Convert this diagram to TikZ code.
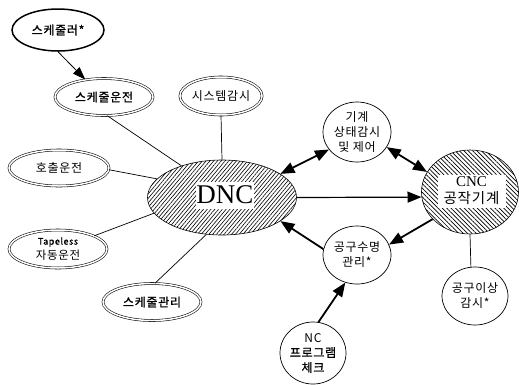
\documentclass[tikz,border=0pt]{standalone}
\usepackage{fontspec}
\setmainfont{Noto Sans CJK KR}[LetterSpace=6]
\newfontfamily\kbold{Noto Sans CJK KR}[LetterSpace=6,FakeBold=1.2]
\newfontfamily\latinserif{Liberation Serif}
\usetikzlibrary{shapes.geometric,arrows.meta,patterns.meta}
\tikzset{
  x=1pt,y=-1pt,
  elbase/.style={ellipse,inner sep=0pt,align=center,font=\fontsize{12}{15}\selectfont},
  dbl/.style={elbase,draw,line width=.55pt,double,double distance=1.5pt,minimum width=#1},
  bold/.style={elbase,draw,line width=1.5pt,minimum width=#1},
  circ/.style={elbase,draw,line width=.7pt,minimum width=#1},
  hatchA/.style={elbase,draw,line width=.6pt,pattern={Lines[angle=50,distance=2.9pt,line width=.6pt]}},
  hatchB/.style={elbase,draw,line width=.6pt,pattern={Lines[angle=-45,distance=3.1pt,line width=.7pt]}},
  plate/.style={fill=white,inner sep=0pt,align=center},
  thin link/.style={line width=.7pt},
  med link/.style={line width=.8pt,-{Triangle[length=13pt,width=9pt]}},
  heavy/.style={line width=1.8pt,-{Triangle[length=14pt,width=11pt]}},
  heavy both/.style={line width=1.8pt,{Triangle[length=14pt,width=11pt]}-{Triangle[length=14pt,width=11pt]}}
}
\begin{document}
\begin{tikzpicture}
\useasboundingbox (0,0) rectangle (519,384);
\node[bold=92pt,minimum height=42pt] (sched) at (58,30) {\kbold 스케줄러*};
\node[dbl=98pt,minimum height=37pt] (run) at (104,97) {\kbold 스케줄운전};
\node[dbl=80pt,minimum height=38pt] (mon) at (221,96) {시스템감시};
\node[dbl=100pt,minimum height=36pt] (call) at (59,168) {호출운전};
\node[dbl=98pt,minimum height=38pt] (tape) at (58,249) {\fontsize{9}{14}\selectfont\kbold Tapeless\\ \fontsize{11.5}{14}\selectfont 자동운전};
\node[dbl=98pt,minimum height=37pt] (mgmt) at (152,302) {\kbold 스케줄관리};
\node[hatchA,minimum width=149pt,minimum height=75pt] (dnc) at (222,197.5) {};
\node[plate,minimum width=56pt,minimum height=27pt] (dnct) at (225,195) {\latinserif\fontsize{27}{27}\selectfont DNC};
\node[hatchB,minimum width=97pt,minimum height=84pt] (cnc) at (470,192) {};
\node[plate,minimum width=68pt,minimum height=33pt,font=\fontsize{14.5}{17}\selectfont] (cnct) at (471.5,191) {{\latinserif\fontsize{15}{17}\selectfont CNC}\\ 공작기계};
\node[circ=68pt,minimum height=60pt] (state) at (357,132) {기계\\ 상태감시\\ 및 제어};
\node[circ=68pt,minimum height=58pt] (life) at (357,255) {공구수명\\ 관리*};
\node[circ=66pt,minimum height=58pt] (fault) at (475,296) {공구이상\\ 감시*};
\node[circ=66pt,minimum height=62pt] (nc) at (313,353) {NC\\ \kbold 프로그램\\ \kbold 체크};

\draw[med link] (sched.270) -- (run.137);
\draw[thin link] (run.280) -- (dnc.142);
\draw[thin link] (mon.270) -- (dnc.90);
\draw[thin link] (call.358) -- (dnc.164);
\draw[thin link] (tape.20) -- (dnc.193);
\draw[thin link] (mgmt.81) -- (dnc.247);
\draw[heavy both] (dnc.22) -- (state.212);
\draw[heavy both] (state.333) -- (cnc.155);
\draw[line width=1.2pt,-{Triangle[length=14pt,width=11pt]}] (dnc.0) -- (cnc.186);
\draw[heavy] (cnc.216) -- (life.18);
\draw[heavy] (life.170) -- (dnc.338);
\draw[heavy] (nc.80) -- (life.247);
\draw[thin link] (cnc.270) -- (fault.98);
\end{tikzpicture}
\end{document}
